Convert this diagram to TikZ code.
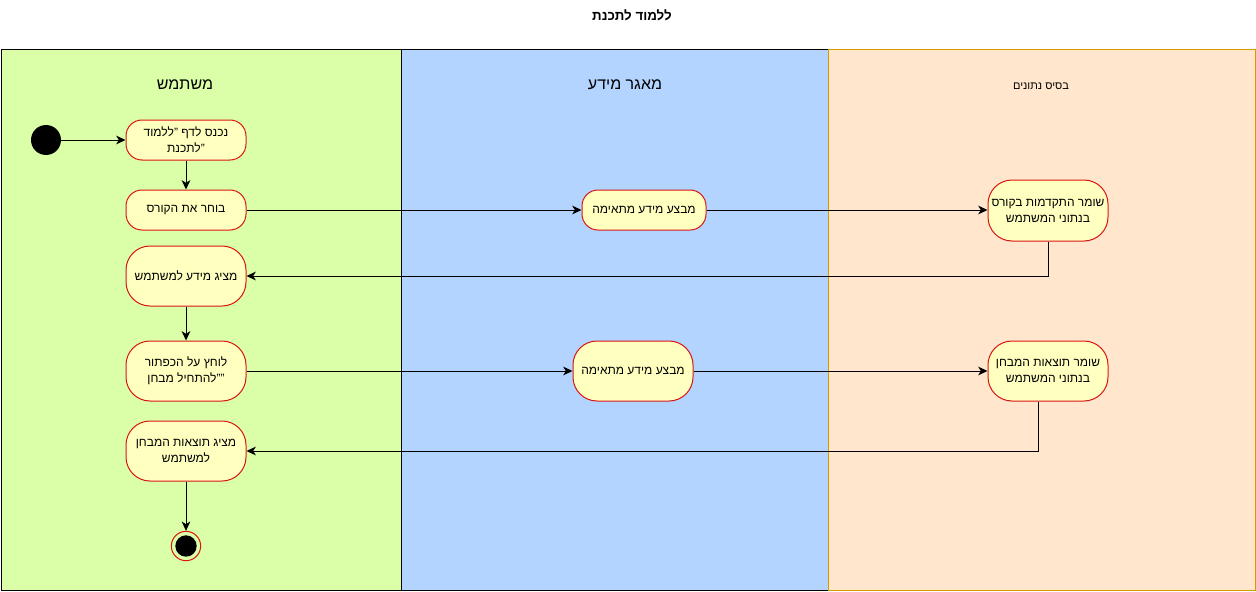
\documentclass[tikz,border=0pt]{standalone}
\usepackage{fontspec}
\setmainfont{Liberation Sans}[Script=Hebrew]
\TeXXeTstate=1
\usetikzlibrary{arrows.meta}
\definecolor{laneA}{RGB}{218,255,168}
\definecolor{laneB}{RGB}{179,212,255}
\definecolor{laneC}{RGB}{255,230,204}
\definecolor{laneCborder}{RGB}{215,155,0}
\definecolor{actfill}{RGB}{255,255,192}
\definecolor{actred}{RGB}{220,20,20}
\newcommand{\RTLline}[1]{\beginR #1\endR}
\tikzset{
  act/.style={draw=actred, fill=actfill, line width=0.75pt, rounded corners=12pt,
    minimum width=90pt, minimum height=30pt, align=center, inner sep=2pt,
    font=\fontsize{9}{12}\selectfont},
  acttall/.style={act, minimum height=45pt, rounded corners=18pt},
  flow/.style={draw=black, line width=0.75pt, -{Stealth[length=7pt,width=6.5pt,inset=2pt]}},
  lane/.style={line width=0.75pt},
  lanehead/.style={font=\fontsize{12}{14}\selectfont, inner sep=0pt},
}
\begin{document}
\begin{tikzpicture}[x=0.75pt,y=-0.75pt]
\useasboundingbox (0,0) rectangle (1256,592);
\fill[white] (0,0) rectangle (1256,592);
% lanes
\draw[lane, fill=laneA, draw=black] (1,50) rectangle (401,590);
\draw[lane, fill=laneB, draw=black] (401,50) rectangle (828,590);
\draw[lane, fill=laneC, draw=laneCborder] (828,50) rectangle (1255,590);
\draw[lane, draw=black] (401,50) -- (401,590);
% title and lane headers
\node[font=\fontsize{10}{12}\selectfont\bfseries, inner sep=0pt] (title) at (632,15) {\RTLline{ללמוד לתכנת}};
\node[lanehead] (h1) at (185,85) {\RTLline{משתמש}};
\node[lanehead] (h2) at (625,85) {\RTLline{מאגר מידע}};
\node[font=\fontsize{8.25}{10}\selectfont, inner sep=0pt] (h3) at (1041,86) {\RTLline{בסיס נתונים}};
% start and end
\node[circle, fill=black, minimum size=22.5pt, inner sep=0pt] (start) at (46,140) {};
\node[circle, draw=actred, line width=0.75pt, minimum size=22pt, inner sep=0pt] (endo) at (186,546) {};
\node[circle, fill=black, minimum size=16pt, inner sep=0pt] (endi) at (186,546) {};
% activities
\node[act] (A) at (186,140) {\RTLline{נכנס לדף "\kern0pt ללמוד}\\\RTLline{"\kern0pt לתכנת}};
\node[act] (B) at (186,210) {\RTLline{בוחר את הקורס}};
\node[acttall] (C) at (186,276) {\RTLline{מציג מידע למשתמש}};
\node[acttall] (D) at (186,371) {\RTLline{לוחץ על הכפתור}\\\RTLline{""\kern0pt להתחיל מבחן}};
\node[acttall] (E) at (186,451) {\RTLline{מציג תוצאות המבחן}\\\RTLline{למשתמש}};
\node[act, minimum width=93pt] (F) at (644,210) {\RTLline{מבצע מידע מתאימה}};
\node[acttall] (G) at (633,371) {\RTLline{מבצע מידע מתאימה}};
\node[acttall, minimum height=45.75pt] (H) at (1048,210.5) {\RTLline{שומר התקדמות בקורס}\\\RTLline{בנתוני המשתמש}};
\node[acttall] (I) at (1048,371) {\RTLline{שומר תוצאות המבחן}\\\RTLline{בנתוני המשתמש}};
% connectors
\draw[flow] (start) -- (A);
\draw[flow] (A) -- (B);
\draw[flow] (B) -- (F);
\draw[flow] (F.east) -- (F.east -| H.west);
\draw[flow] (H.south) |- (C.east);
\draw[flow] (C) -- (D);
\draw[flow] (D) -- (G);
\draw[flow] (G) -- (I);
\draw[flow] ([xshift=-7.5pt]I.south) |- (E.east);
\draw[flow] (E) -- (endo);
\end{tikzpicture}
\end{document}
